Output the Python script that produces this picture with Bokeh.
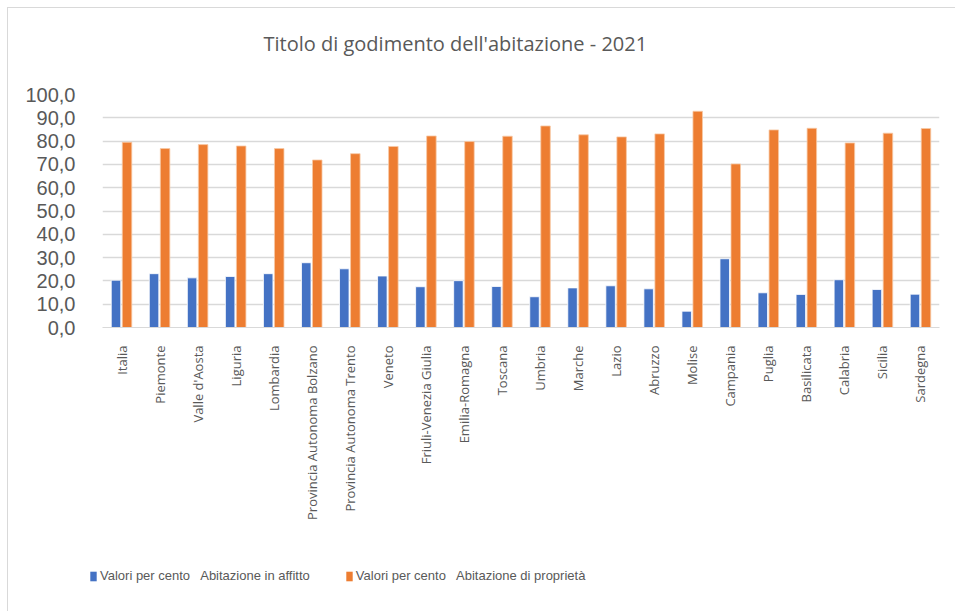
import math
from bokeh.plotting import figure
from bokeh.layouts import column
from bokeh.models import (ColumnDataSource, FactorRange, Legend, LegendItem, Title,
                          CustomJSTickFormatter, FixedTicker)
from bokeh.transform import dodge
from bokeh.embed import file_html
from bokeh.resources import INLINE

title_text = "Titolo di godimento dell'abitazione - 2021"
regions = ["Italia", "Piemonte", "Valle d'Aosta", "Liguria", "Lombardia",
           "Provincia Autonoma Bolzano", "Provincia Autonoma Trento", "Veneto",
           "Friuli-Venezia Giulia", "Emilia-Romagna", "Toscana", "Umbria", "Marche",
           "Lazio", "Abruzzo", "Molise", "Campania", "Puglia", "Basilicata",
           "Calabria", "Sicilia", "Sardegna"]
affitto = [20.3, 23.1, 21.3, 21.9, 23.1, 27.8, 25.2, 22.1, 17.5, 20.1, 17.6,
           13.2, 17.0, 17.9, 16.6, 7.0, 29.5, 14.9, 14.2, 20.5, 16.3, 14.3]
proprieta = [79.5, 76.8, 78.5, 77.9, 76.8, 71.9, 74.6, 77.7, 82.2, 79.8, 82.1,
             86.5, 82.7, 81.8, 83.1, 92.8, 70.2, 84.8, 85.5, 79.2, 83.4, 85.4]
series_names = ["Valori per cento   Abitazione in affitto",
                "Valori per cento   Abitazione di proprietà"]
y_ticks = [0, 10, 20, 30, 40, 50, 60, 70, 80, 90, 100]

BLUE = "#4472C4"
ORANGE = "#ED7D31"
GREY_TXT = "#595959"
GRID = "#d9d9d9"

src = ColumnDataSource(dict(region=regions, affitto=affitto, proprieta=proprieta))

# ---- main chart ----
p = figure(x_range=FactorRange(*regions, range_padding=0), y_range=(0, 100),
           width=947, height=535, output_backend="svg", toolbar_location=None,
           min_border_left=94, min_border_right=16, min_border_top=86,
           min_border_bottom=216)
p.frame_align = False
p.outline_line_color = None
p.background_fill_color = "white"
p.border_fill_color = "white"

p.vbar(x=dodge("region", -0.145, range=p.x_range), top="affitto", width=0.25,
       source=src, fill_color=BLUE, line_color="white", line_width=0.8)
p.vbar(x=dodge("region", 0.145, range=p.x_range), top="proprieta", width=0.25,
       source=src, fill_color=ORANGE, line_color="#f8c9a6", line_width=0.8)

p.yaxis.ticker = FixedTicker(ticks=y_ticks)
p.yaxis.formatter = CustomJSTickFormatter(code="return tick.toFixed(1).replace('.', ',');")
p.yaxis.axis_line_color = None
p.yaxis.major_tick_line_color = None
p.yaxis.minor_tick_line_color = None
p.yaxis.major_label_text_font = "Liberation Sans"
p.yaxis.major_label_text_font_size = "20px"
p.yaxis.major_label_text_color = GREY_TXT
p.yaxis.major_label_standoff = 21

p.xaxis.axis_line_color = GRID
p.xaxis.major_tick_line_color = None
p.xaxis.minor_tick_line_color = None
p.xaxis.major_label_orientation = math.pi / 2
p.xaxis.major_label_text_font = "Open Sans"
p.xaxis.major_label_text_font_size = "13px"
p.xaxis.major_label_text_color = GREY_TXT
p.xaxis.major_label_standoff = 12

p.xgrid.grid_line_color = None
p.ygrid.grid_line_color = GRID
p.ygrid.grid_line_width = 1.5

# spacer between frame and title
p.add_layout(Title(text=" ", text_font_size="1px", standoff=35), "above")

p.title.text = title_text
p.title.align = "left"
p.title.vertical_align = "bottom"
p.title.offset = 161
p.title.standoff = 0
p.title.text_font = "Open Sans"
p.title.text_font_size = "20px"
p.title.text_font_style = "normal"
p.title.text_color = GREY_TXT

# ---- legend strip ----
q = figure(width=947, height=68, x_range=(0, 1), y_range=(0, 1),
           output_backend="svg", toolbar_location=None,
           min_border=0, min_border_left=0, min_border_right=0,
           min_border_top=0, min_border_bottom=0)
q.frame_align = False
q.axis.visible = False
q.grid.visible = False
q.outline_line_color = None
q.background_fill_color = "white"
q.border_fill_color = "white"
# zero-height legend proxies
l1 = q.vbar(x=[0.5], top=[0], width=0.1, fill_color=BLUE, line_color=None)
l2 = q.vbar(x=[0.5], top=[0], width=0.1, fill_color=ORANGE, line_color=None)

legend = Legend(items=[LegendItem(label=series_names[0], renderers=[l1]),
                       LegendItem(label=series_names[1], renderers=[l2])],
                orientation="horizontal", location=(81, 28),
                glyph_width=8, glyph_height=12, label_standoff=3, spacing=35,
                padding=0, margin=0, border_line_color=None,
                background_fill_alpha=0,
                label_text_font="Liberation Sans", label_text_font_size="13px",
                label_text_color=GREY_TXT, label_height=12)
q.add_layout(legend)

layout = column(p, q, spacing=0,
                styles={"margin": "7px 0 0 7px",
                        "border-left": "1px solid #d9d9d9",
                        "border-top": "1px solid #d9d9d9"})

open("out.html", "w").write(file_html(layout, INLINE))
